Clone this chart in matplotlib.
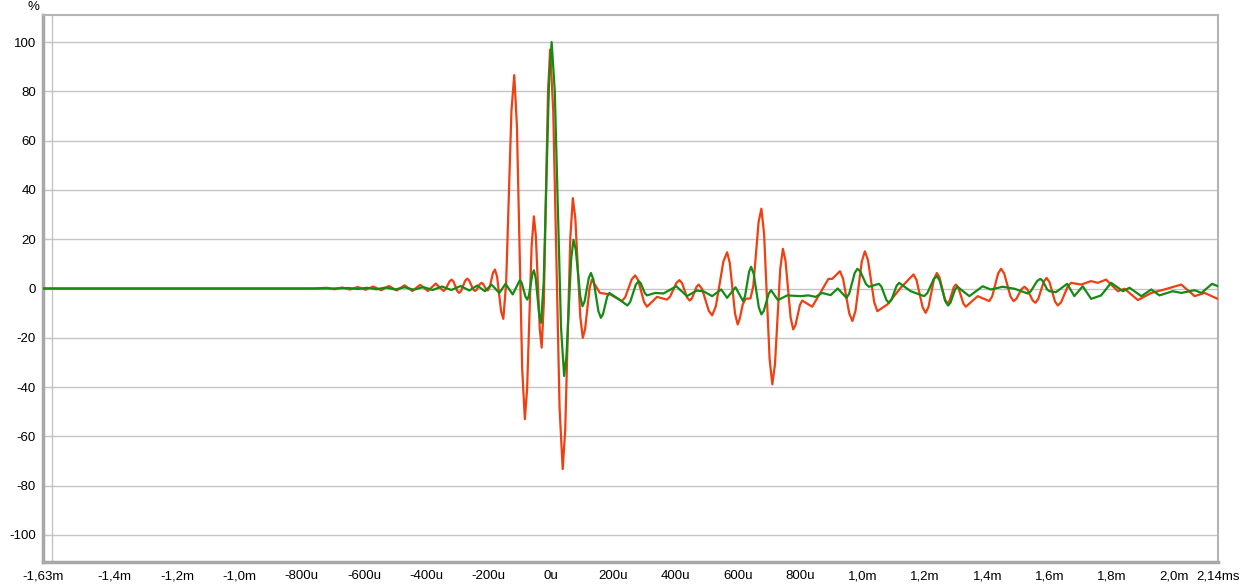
import matplotlib
matplotlib.use("Agg")
import matplotlib.pyplot as plt
from matplotlib.ticker import FixedLocator

# ---- data (time in microseconds, amplitude in %) ----
red_curve = [
    (-1630, 0), (-1000, 0), (-760, 0), (-720, 0.3), (-695, -0.3), (-670, 0.4), (-645, -0.4),
    (-620, 0.6), (-595, -0.5), (-570, 0.8), (-545, -0.7), (-520, 1.0), (-495, -0.8),
    (-470, 1.3), (-445, -1.0), (-420, 1.5), (-395, -1.0), (-370, 2.0),
    (-345, -1.0), (-338.5, -0.3), (-325.5, 2.9), (-319, 3.6), (-313, 2.8), (-301, -1.0),
    (-295, -1.8), (-288.5, -0.95), (-275.5, 3.15), (-269, 4.0), (-262.75, 3.3),
    (-250.25, -0.3), (-244, -1.0), (-238.75, -0.5), (-228.25, 1.8), (-223, 2.3),
    (-218, 1.85), (-208, -0.35), (-203, -0.8),
    (-197, 0.45), (-186, 6.45), (-180, 7.7), (-173, 4.8), (-160, -9.4), (-153, -12.3),
    (-144, 2.2), (-127, 72.1), (-118, 86.6), (-109.5, 66.2), (-92.5, -32.6), (-84, -53.0),
    (-76.75, -40.9), (-62.25, 17.2), (-55, 29.3), (-48.75, 21.5), (-36.25, -16.2),
    (-30, -24.0), (-23.25, -6.3), (-9.75, 79.3), (-3, 97.0), (7.1, 72.1), (27.4, -48.4),
    (37.5, -73.3), (45.6, -57.2), (61.9, 20.6), (70, 36.7), (78, 28.4), (94, -11.7),
    (102, -20.0), (109.25, -16.5), (123.75, 0.1), (131, 3.6), (157, -1.8), (190, -2.4),
    (227, -5.1), (237.75, -3.6), (259.25, 3.8), (270, 5.3), (279.5, 3.4), (298.5, -5.5),
    (308, -7.4), (340, -3.4), (372, -4.5), (382, -3.3), (402, 2.2), (412, 3.4),
    (420.25, 2.2), (436.75, -3.7), (445, -4.9), (452.25, -3.95), (466.75, 0.65),
    (474, 1.6), (484.75, -0.2), (506.25, -9.1), (517, -10.9), (529, -7.15), (553, 10.95),
    (565, 14.7), (573.5, 10.4), (590.5, -10.3), (599, -14.6), (606, -12.0), (615, -6.5),
    (624, -4.2), (640, -4.0), (649, 1.0), (666, 27.0), (675, 32.4), (683.75, 21.95),
    (701.25, -28.5), (710, -38.9), (718.5, -30.8), (735.5, 8.0), (744, 16.1),
    (752.25, 11.3), (768.75, -11.8), (777, -16.6), (784.25, -14.9), (798.75, -6.6),
    (806, -4.9), (838, -7.4), (870, -0.4), (890, 3.9), (902, 3.9), (927, 7.0), (937, 4.0),
    (957, -10.2), (967, -13.2), (977, -9.0), (997, 10.95), (1007, 15.1), (1017, 11.5),
    (1037, -5.6), (1047, -9.2), (1079, -6.5), (1122, 0.3), (1163, 5.7), (1172.75, 3.4),
    (1192.25, -7.6), (1202, -9.9), (1211, -7.5), (1229, 3.9), (1238, 6.3), (1246.5, 4.5),
    (1263.5, -4.3), (1272, -6.1), (1278.75, -5.0), (1292.25, 0.5), (1299, 1.6),
    (1307, 0.3), (1323, -6.1), (1331, -7.4), (1369, -3.1), (1406, -5.1), (1415.5, -3.2),
    (1434.5, 6.1), (1444, 8.0), (1454, 6.1), (1474, -3.2), (1484, -5.1), (1492.75, -4.25),
    (1510.25, -0.15), (1519, 0.7), (1527.75, -0.25), (1545.25, -4.85), (1554, -5.8),
    (1563, -4.3), (1581, 2.8), (1590, 4.3), (1599, 2.66), (1617, -5.26), (1626, -6.9),
    (1636.75, -5.55), (1658.25, 0.95), (1669, 2.3), (1701, 1.6), (1733, 3.0), (1754, 2.3),
    (1781, 3.6), (1819, -1.1), (1840, -0.1), (1883, -4.7), (1926, -1.8), (1968, -0.4),
    (2022, 1.6), (2065, -3.1), (2097, -1.8), (2144, -4.5),
]

green_curve = [
    (-1630, 0), (-1000, 0), (-700, 0), (-650, 0.2), (-620, -0.2), (-590, 0.3), (-560, -0.3),
    (-530, 0.4), (-500, -0.4), (-470, 0.5), (-440, -0.5), (-410, 0.6), (-380, -0.6),
    (-350, 0.8), (-320, -0.6), (-290, 1.0), (-262, -0.8), (-237, 1.2), (-212, -1.1),
    (-191, 1.6), (-166, -1.8), (-146, 1.9), (-123, -2.4), (-100, 3.4), (-94, 2.24),
    (-82, -3.34), (-76, -4.5), (-70.75, -2.76), (-60.25, 5.66), (-55, 7.4), (-49.25, 4.28),
    (-37.75, -10.78), (-32, -13.9), (-23.5, 2.79), (-6.5, 83.3), (2, 100), (12, 80.15),
    (32, -15.65), (42, -35.5), (49.5, -27.4), (64.5, 11.7), (72, 19.8), (79.25, 15.85),
    (93.75, -3.25), (101, -7.2), (107.75, -5.22), (121.25, 4.32), (128, 6.3), (136, 3.63),
    (152, -9.23), (160, -11.9), (166.75, -10.42), (180.25, -3.28), (187, -1.8),
    (216, -4.2), (245, -6.9), (254, -5.45), (272, 1.55), (281, 3.0), (287.75, 2.15),
    (301.25, -1.95), (308, -2.8), (334, -1.8), (361, -2.0), (402, 0.9), (436, -3.1),
    (468, -0.8), (490, -1.2), (517, -3.1), (546, -0.4), (565, -3.8), (592, 0.5),
    (616, -5.1), (622.5, -3.06), (635.5, 6.76), (642, 8.8), (650.25, 5.97),
    (666.75, -7.67), (675, -10.5), (682.75, -9.06), (698.25, -2.14), (706, -0.7),
    (728, -4.7), (758, -2.8), (800, -3.1), (826, -2.8), (849, -3.4), (870, -1.8),
    (897, -2.7), (920, 0.0), (948, -3.8), (956.75, -2.07), (974.25, 6.27), (983, 8.0),
    (992.25, 6.93), (1010.75, 1.77), (1020, 0.7), (1052, 1.9), (1060, 0.77),
    (1076, -4.67), (1084, -5.8), (1092.25, -4.61), (1108.75, 1.11), (1117, 2.3),
    (1154, -1.1), (1197, -3.1), (1207.25, -1.91), (1227.75, 3.81), (1238, 5.0),
    (1247, 3.26), (1265, -5.16), (1274, -6.9), (1281.5, -5.79), (1296.5, -0.41),
    (1304, 0.7), (1342, -3.1), (1385, 0.9), (1411, -0.4), (1449, 0.7), (1487, -0.1),
    (1529, -2.0), (1539.25, -1.14), (1559.75, 3.04), (1570, 3.9), (1577.25, 3.17),
    (1591.75, -0.37), (1599, -1.1), (1620, -1.5), (1656, 1.9), (1679, -3.1), (1706, 0.9),
    (1733, -4.2), (1765, -2.8), (1797, 2.3), (1835, -1.1), (1856, 0.3), (1894, -3.1),
    (1926, -0.4), (1952, -2.8), (1995, -1.1), (2022, -1.8), (2065, -0.7), (2087, -1.8),
    (2121, 1.9), (2144, 0.7),
]

x_tick_pos = [-1630, -1400, -1200, -1000, -800, -600, -400, -200, 0, 200, 400, 600,
              800, 1000, 1200, 1400, 1600, 1800, 2000, 2140]
x_tick_labels = ["-1,63m", "-1,4m", "-1,2m", "-1,0m", "-800u", "-600u", "-400u", "-200u",
                 "0u", "200u", "400u", "600u", "800u", "1,0m", "1,2m", "1,4m", "1,6m",
                 "1,8m", "2,0m", "2,14ms"]
x_grid = [-1600, -1400, -1200, -1000, -800, -600, -400, -200, 0, 200, 400, 600, 800,
          1000, 1200, 1400, 1600, 1800, 2000]
y_ticks = [-100, -80, -60, -40, -20, 0, 20, 40, 60, 80, 100]

plt.rcParams['font.family'] = ['Liberation Sans', 'DejaVu Sans']

fig = plt.figure(figsize=(12.4, 5.84), dpi=100)
ax = fig.add_axes([43 / 1240, 22 / 584, 1175 / 1240, 547 / 584])

red_t, red_v = zip(*red_curve)
green_t, green_v = zip(*green_curve)
ax.plot(red_t, red_v, color='#ee4010', lw=1.6, solid_joinstyle='round', zorder=3)
ax.plot(green_t, green_v, color='#148c14', lw=1.6, solid_joinstyle='round', zorder=4)

ax.set_xlim(-1630, 2140)
ax.set_ylim(-111, 111)

ax.xaxis.set_major_locator(FixedLocator(x_tick_pos))
ax.set_xticklabels(x_tick_labels)
ax.xaxis.set_minor_locator(FixedLocator(x_grid))
ax.set_yticks(y_ticks)
ax.set_yticklabels([str(v) for v in y_ticks])

ax.grid(False, which='major')
ax.grid(True, which='minor', axis='x', color='#c4c4c4', lw=1)
ax.grid(True, which='major', axis='y', color='#c4c4c4', lw=1)
ax.set_axisbelow(True)

ax.tick_params(axis='both', which='both', length=0, labelsize=9.5, colors='#000000')
ax.tick_params(axis='x', pad=6)
ax.tick_params(axis='y', pad=5)

for s in ax.spines.values():
    s.set_color('#b4b4b4')
    s.set_linewidth(1.5)
ax.spines['left'].set_linewidth(2.5)
ax.spines['left'].set_color('#a8a8a8')
ax.spines['bottom'].set_linewidth(2.5)
ax.spines['bottom'].set_color('#a8a8a8')

fig.text(33 / 1240, 1 - 7 / 584, "%", ha='center', va='center', fontsize=9.5)

fig.savefig("out.png", dpi=100, facecolor='white')
